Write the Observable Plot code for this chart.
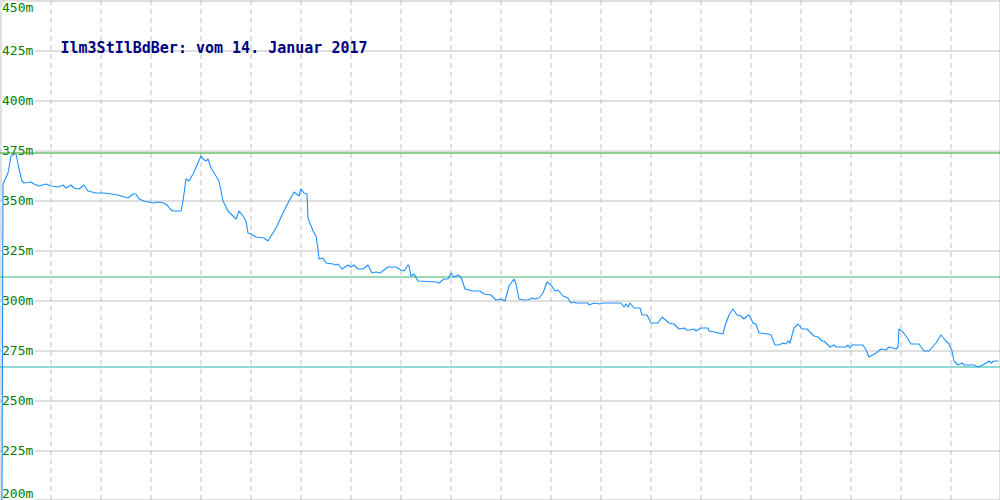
<!DOCTYPE html>
<html><head><meta charset="utf-8">
<script src="https://cdn.jsdelivr.net/npm/d3@7"></script>
<script src="https://cdn.jsdelivr.net/npm/@observablehq/plot@0.6"></script>
<style>body{margin:0;background:#fff}svg{display:block}</style>
</head><body><div id="chart"></div>
<script>
const title = "Ilm3StIlBdBer: vom 14. Januar 2017";
const dist = [1,2,7,10,13,15,18,21,23,30,33,38,45,50,58,62,65,70,73,78,83,87,95,103,110,117,127,132,135,138,143,152,157,163,167,169,172,180,182,185,188,192,197,200,202,205,207,210,215,218,222,227,232,235,238,242,245,247,250,255,263,267,270,275,282,288,293,298,300,303,306,307,312,315,317,318,322,325,332,335,337,341,347,350,353,357,362,367,371,375,379,387,395,400,403,407,408,410,413,417,435,438,443,447,450,453,457,460,464,472,479,483,490,495,500,504,508,513,515,518,523,527,531,533,538,542,546,550,554,557,562,567,570,573,575,587,588,593,599,602,620,623,625,627,629,633,639,641,646,650,657,661,668,673,678,683,686,689,693,695,700,707,708,713,722,724,728,732,736,740,743,746,748,752,755,758,767,770,774,778,782,785,787,789,793,797,801,806,813,817,821,823,827,829,833,835,845,847,849,851,862,865,868,875,880,885,888,892,895,897,898,901,905,910,918,923,928,935,940,945,948,951,953,957,961,963,973,977,982,985,988,990,993,997];
const elev = [200,358.5,364,372.5,373.5,373.5,366,360,359,359.5,358.5,357.5,358.5,357.5,357,358,356.5,358,356.5,356,358,355,354,354,353.5,353,351.5,353.5,353.5,351,350,349,349.5,349,347.5,346,345,345,350,361,360,363.5,369,372.5,371,370,371,366.5,362.5,360,350,345,342.5,341,345,342.5,340,334,333.5,332,331.5,330,332.5,336.5,344,350,354.5,352.5,356,354,353.5,341.5,335,332.5,326,321,321.5,319,318.5,318,318.5,316,318,317,318,316,316,318,314,314.5,314,317,317,315.5,315,318,317.5,312.5,313.5,310,309.5,309,311,311,314,312,313,312,306,305,305,303.5,303,300.5,301,300,307.5,311,308.5,301,300.5,300.5,301.5,301,301.5,304,309.5,308,305,305.5,302.5,301.5,299,299.5,299,299,298,299,298.5,299,299,297,298.5,297,299,296.5,296.5,293,293,289,289,292,289,288.5,286,286.5,285.5,285.5,286,285,286.5,286.5,285,284.5,283.5,287.5,293,296,293,292.5,291,292.5,293,289,288.5,284,283.5,283,278,278,279,278.5,280,279,286.5,288.5,286,286,282.5,282,280,280,278,277,278,277,277,278,276.5,278,278,275.5,272,274,276,275.5,277,276.5,276,277,286,285,282.5,278.5,278.5,275,275,279,283,280,278.5,275,270,268,269,268,268,267,268,269,270,269,270,270];
const yTicks = [200,225,250,275,300,325,350,375,400,425,450];
const xGrid = [50,100,150,200,250,300,350,400,450,500,550,600,650,700,750,800,850,900,950];
const refLevels = [374,312,267];
const refColors = ["#23a023","#3cb371","#20b2aa"];

const data = dist.map((d,i)=>({dist:d, elev:elev[i]}));
const midTicks = yTicks.slice(1,-1);
const font = "DejaVu Sans Mono";
const lbl = {x: 0, textAnchor:"start", dx:1, fill:"#008000", fontFamily:font, fontSize:13, stroke:"white", strokeWidth:4, text:d=>d+"m"};

const chart = Plot.plot({
  width:1000, height:500, margin:0,
  x:{domain:[0,1000], range:[0.5,1000.5], axis:null},
  y:{domain:[200,450], range:[500.5,0.5], axis:null},
  marks:[
    Plot.ruleX(xGrid, {x:d=>d, stroke:"#c0c0c0", strokeDasharray:"5,4", strokeOpacity:1}),
    Plot.ruleY(midTicks, {y:d=>d, stroke:"#c0c0c0", strokeOpacity:1}),
    Plot.frame({stroke:"#c0c0c0", inset:0.5}),
    Plot.text(midTicks, {...lbl, y:d=>d, lineAnchor:"middle"}),
    Plot.text([yTicks[yTicks.length-1]], {...lbl, y:d=>d, lineAnchor:"middle", dy:7}),
    Plot.text([yTicks[0]], {...lbl, y:d=>d, lineAnchor:"middle", dy:-7}),
    Plot.text([title], {frameAnchor:"top-left", dx:60, dy:42, lineAnchor:"top", textAnchor:"start", text:d=>d, fill:"#000080", fontFamily:font, fontSize:15, fontWeight:"bold"}),
    Plot.ruleY(refLevels, {y:d=>d, stroke:(d,i)=>refColors[i], strokeOpacity:1}),
    Plot.line(data, {x:"dist", y:"elev", stroke:"#1e90ff", strokeWidth:1.1})
  ]
});
document.getElementById("chart").appendChild(chart);
</script>
</body></html>
